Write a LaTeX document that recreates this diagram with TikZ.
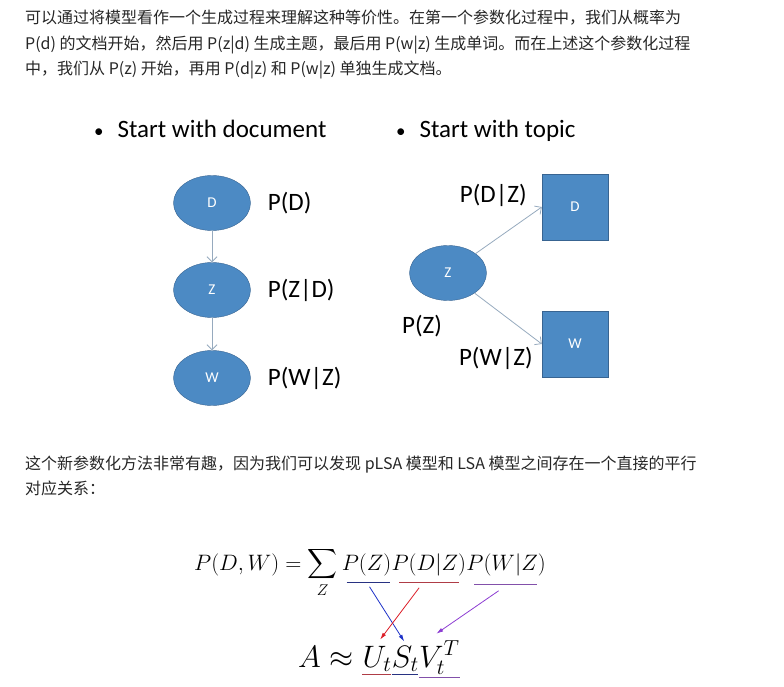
\RequirePackage{fix-cm}
\documentclass[tikz,border=0pt]{standalone}
\usepackage{amsmath}
\usepackage[no-math]{fontspec}
\newfontfamily\cjkfont{Noto Sans CJK SC}
\newfontfamily\slidefont{Carlito}
\usepackage{tikz}
\usetikzlibrary{shapes.geometric,arrows.meta,positioning,calc}

\definecolor{nodeblue}{RGB}{76,138,196}
\definecolor{nodeedge}{RGB}{56,100,145}
\definecolor{linkgray}{RGB}{150,170,190}
\definecolor{ulred}{RGB}{175,60,70}
\definecolor{ulblue}{RGB}{40,50,130}
\definecolor{ulpurple}{RGB}{130,80,170}
\definecolor{arrred}{RGB}{220,30,40}
\definecolor{arrblue}{RGB}{30,50,200}
\definecolor{arrpurple}{RGB}{140,60,210}

\begin{document}
\begin{tikzpicture}[
    x=1pt, y=-1pt,
    para/.style={anchor=base west, inner sep=0pt, text=black!85, font=\cjkfont\fontsize{16}{20}\selectfont},
    bullet/.style={anchor=base west, inner sep=0pt, font=\slidefont\fontsize{25}{30}\selectfont},
    ell/.style={draw=nodeedge, fill=nodeblue, ellipse, minimum width=77pt, minimum height=55pt, inner sep=0pt, text=white, font=\slidefont\fontsize{15}{18}\selectfont},
    sq/.style={draw=nodeedge, fill=nodeblue, minimum size=66pt, inner sep=0pt, text=white, font=\slidefont\fontsize{15}{18}\selectfont},
    prob/.style={inner sep=0pt, font=\slidefont\fontsize{25}{30}\selectfont},
    link/.style={draw=linkgray, line width=0.8pt, -{Straight Barb[length=5pt,width=10pt]}},
    term/.style={anchor=base west, inner sep=0pt, font=\fontsize{22.3}{26}\selectfont},
    big/.style={anchor=base west, inner sep=0pt, font=\fontsize{31}{36}\selectfont},
    uline/.style={line width=0.9pt},
    marr/.style={line width=0.8pt, -{Latex[length=7pt,width=4pt]}}
]
\useasboundingbox (0,0) rectangle (784,687);

% text above
\node[para] (l1) at (25,24) {可以通过将模型看作一个生成过程来理解这种等价性。在第一个参数化过程中，我们从概率为};
\node[para] (l2) at (25,50) {P(d) 的文档开始，然后用 P(z|d) 生成主题，最后用 P(w|z) 生成单词。而在上述这个参数化过程};
\node[para] (l3) at (25,75) {中，我们从 P(z) 开始，再用 P(d|z) 和 P(w|z) 单独生成文档。};

% slide
\node[bullet] (b1) at (94,138) {{\fontsize{19}{20}\selectfont •}\hspace{14pt}Start with document};
\node[bullet] (b2) at (396,138) {{\fontsize{19}{20}\selectfont •}\hspace{14pt}Start with topic};

\node[ell] (d1) at (212,203) {D};
\node[ell] (z1) at (212,290) {Z};
\node[ell] (w1) at (212,378) {W};
\node[prob, right=17pt of d1] (pd1) {P(D)};
\node[prob, right=17pt of z1] (pz1) {P(Z|D)};
\node[prob, right=17pt of w1] (pw1) {P(W|Z)};
\draw[link] (d1) -- (z1);
\draw[link] (z1) -- (w1);

\node[ell] (z2) at (448,273) {Z};
\node[sq] (d2) at (575,207) {D};
\node[sq] (w2) at (575,344) {W};
\node[prob, anchor=east] (pd2) at ($(d2.west)+(-15,-12)$) {P(D|Z)};
\node[prob, anchor=east] (pw2) at ($(w2.west)+(-9,14)$) {P(W|Z)};
\node[prob, anchor=west] (pz2) at (402,326) {P(Z)};
\draw[link] (z2) -- (d2.west);
\draw[link] (z2) -- (w2.west);

% text below
\node[para] (l4) at (25,469) {这个新参数化方法非常有趣，因为我们可以发现 pLSA 模型和 LSA 模型之间存在一个直接的平行};
\node[para] (l5) at (25,494) {对应关系：};

% formulas
\node[term] (lhs) at (194,570) {$P(D,W)=\displaystyle\sum\limits_Z\,$};
\node[term] (pz) at (lhs.base east) {$P(Z)$};
\node[term] (pdz) at (pz.base east) {$P(D|Z)$};
\node[term] (pwz) at (pdz.base east) {$P(W|Z)$};

\node[big] (a) at (298,667) {$A\approx{}$};
\node[big] (ut) at (a.base east) {$U_t$};
\node[big] (st) at (ut.base east) {$S_t$};
\node[big] (vt) at (st.base east) {$V_t^T$};

\draw[uline, ulblue] ($(pz.south west)+(5,7)$) -- coordinate[pos=.5] (pzu) ($(pz.south east)+(-1,7)$);
\draw[uline, ulred] ($(pdz.south west)+(8,7)$) -- coordinate[pos=.33] (pdzu) ($(pdz.south east)+(-7,7)$);
\draw[uline, ulpurple] ($(pwz.south west)+(8,9)$) -- coordinate[pos=.39] (pwzu) ($(pwz.south east)+(-9,9)$);

\draw[uline, ulred] ($(ut.south west)+(0,3)$) -- ($(ut.south east)+(-1,3)$);
\draw[uline, ulblue] ($(st.south west)+(0,3)$) -- ($(st.south east)+(-1,3)$);
\draw[uline, ulpurple] ($(vt.south west)+(0,3)$) -- ($(vt.south east)+(0,3)$);

\coordinate (utin) at ($(ut.north)+(3,-6)$);
\coordinate (stin) at ($(st.north)+(-1,-4)$);
\coordinate (vtin) at ($(vt.north)+(-3,-7)$);
\draw[marr, arrblue] ($(pzu)+(1,4)$) -- (stin);
\draw[marr, arrred] ($(pdzu)+(0,5)$) -- (utin);
\draw[marr, arrpurple] ($(pwzu)+(0,6)$) -- (vtin);
\end{tikzpicture}
\end{document}
